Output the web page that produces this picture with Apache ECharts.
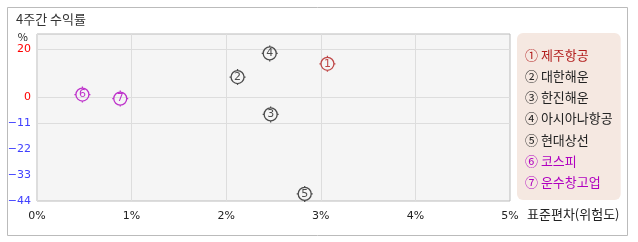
<!DOCTYPE html>
<html><head><meta charset="utf-8">
<script src="https://cdn.jsdelivr.net/npm/echarts@6/dist/echarts.min.js"></script>
<style>html,body{margin:0;padding:0;background:#fff}#c{width:638px;height:242px}</style>
</head><body><div id="c"></div>
<script>
const names = ['제주항공','대한해운','한진해운','아시아나항공','현대상선','코스피','운수창고업'];
const marks = ['①','②','③','④','⑤','⑥','⑦'];
const digits = ['1','2','3','4','5','6','7'];
const risk = [3.07, 2.12, 2.47, 2.46, 2.83, 0.48, 0.88];
const ret = [14.0, 8.4, -7.4, 18.4, -41.0, 1.0, -0.7];
const colors = ['#b21d1d','#222222','#222222','#222222','#222222','#b000c0','#b000c0'];
const yTicks = [-44, -33, -22, -11, 0, 20];
const yGrid = [20, 0, -11];
const xTicks = [0, 1, 2, 3, 4, 5];

const FONT = "'Noto Sans CJK KR', 'DejaVu Sans', sans-serif";
const chart = echarts.init(document.getElementById('c'), null, {renderer:'canvas'});
const markerPath = 'path://M6.5,0A6.5,6.5,0,1,1,-6.5,0A6.5,6.5,0,1,1,6.5,0Z M0,-8L0,-6.5 M0,6.5L0,8 M-8,0L-6.5,0 M6.5,0L8,0';

const series = names.map((n, i) => ({
  type: 'scatter',
  name: n,
  data: [[risk[i], ret[i]]],
  symbol: markerPath,
  symbolSize: 16,
  itemStyle: { color: 'rgba(0,0,0,0)', borderColor: colors[i], borderWidth: 1.3 },
  label: { show: true, position: 'inside', formatter: digits[i], color: colors[i], fontSize: 11, fontFamily: "'DejaVu Sans', sans-serif" },
  emphasis: { disabled: true },
  markLine: i === 0 ? {
    silent: true, symbol: 'none', label: { show: false },
    lineStyle: { color: '#dddddd', type: 'solid', width: 1 },
    data: yGrid.map(v => ({ yAxis: v }))
  } : undefined,
  z: 5
}));

chart.setOption({
  animation: false,
  textStyle: { fontFamily: FONT },
  graphic: [
    { type: 'rect', shape: { x: 7.5, y: 7.5, width: 620, height: 228 }, style: { fill: 'none', stroke: '#bbbbbb', lineWidth: 1 }, z: -10 },
    { type: 'text', left: 16, top: 13, style: { text: '4주간 수익률', fill: '#333', font: "13px " + FONT } },
    { type: 'text', left: 527, top: 208, style: { text: '표준편차(위험도)', fill: '#222', font: "13px " + FONT } }
  ],
  legend: {
    orient: 'vertical',
    left: 517, top: 33,
    padding: [14, 8, 10, 3],
    itemGap: 6,
    backgroundColor: '#f5e8e1',
    borderRadius: 6,
    icon: 'none',
    itemWidth: 0, itemHeight: 0,
    selectedMode: false,
    data: names.map((n, i) => ({ name: n, textStyle: { color: colors[i] } })),
    formatter: (n) => marks[names.indexOf(n)] + ' ' + n,
    textStyle: { fontSize: 13, fontFamily: FONT, lineHeight: 15.3 }
  },
  grid: { left: 37, right: 128, top: 34, bottom: 41, show: true, backgroundColor: '#f5f5f5', borderColor: '#bbbbbb', borderWidth: 1 },
  xAxis: {
    type: 'value', min: 0, max: 5, interval: 1,
    axisLine: { show: false }, axisTick: { show: false },
    splitLine: { show: true, lineStyle: { color: '#dddddd' } },
    axisLabel: { color: '#222', fontSize: 11, margin: 10, formatter: v => v + '%', fontFamily: "'DejaVu Sans', sans-serif" }
  },
  yAxis: {
    type: 'value', min: -44, max: 26.6,
    name: '%', nameLocation: 'end', nameGap: -8,
    nameTextStyle: { color: '#222', fontSize: 11, align: 'right', padding: [0, 9, 0, 0] },
    axisLine: { show: false }, axisTick: { show: false },
    splitLine: { show: false },
    axisLabel: {
      customValues: yTicks, margin: 6, fontSize: 11, fontFamily: "'DejaVu Sans', sans-serif",
      color: (v) => Number(v) >= 0 ? '#ff0000' : '#4040ff',
      formatter: v => String(v).replace('-', '−')
    }
  },
  series: series
});
</script></body></html>
